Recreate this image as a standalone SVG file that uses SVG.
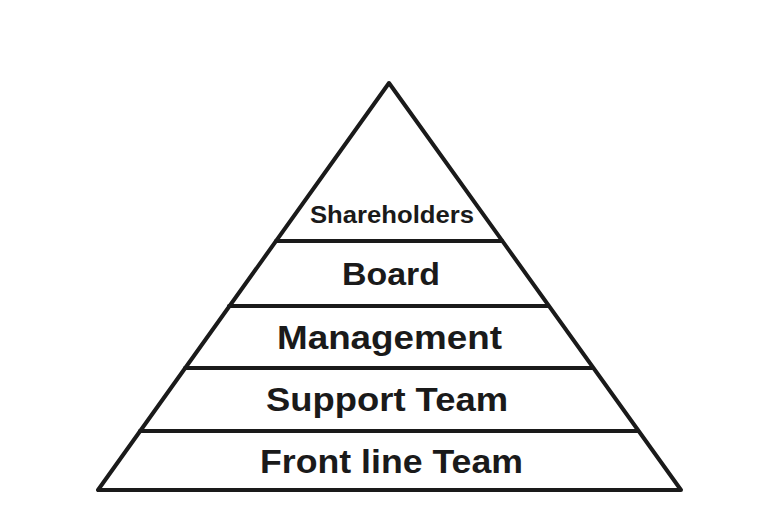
<svg xmlns="http://www.w3.org/2000/svg" width="766" height="522" viewBox="0 0 766 522">
<style>
.edge{fill:none;stroke:#1a1a1a;stroke-width:4;stroke-linejoin:round;stroke-linecap:round}
.lbl{font-family:"Liberation Sans",Arial,sans-serif;font-weight:bold;fill:#1a1a1a;text-anchor:middle}
</style>
<rect width="766" height="522" fill="#ffffff"/>
<g id="outline">
<polygon class="edge" points="389,83 98,490 681,490"/>
</g>
<g id="connectors">
<line class="edge" x1="276" y1="241" x2="502" y2="241"/>
<line class="edge" x1="229" y1="306" x2="548" y2="306"/>
<line class="edge" x1="185" y1="368" x2="592" y2="368"/>
<line class="edge" x1="140" y1="431" x2="638" y2="431"/>
</g>
<g id="shareholders"><text class="lbl" x="392" y="223" font-size="23" textLength="164" lengthAdjust="spacingAndGlyphs">Shareholders</text></g>
<g id="board"><text class="lbl" x="391" y="285" font-size="32" textLength="98" lengthAdjust="spacingAndGlyphs">Board</text></g>
<g id="management"><text class="lbl" x="389.5" y="349" font-size="33" textLength="225" lengthAdjust="spacingAndGlyphs">Management</text></g>
<g id="support-team"><text class="lbl" x="387" y="411" font-size="33" textLength="242" lengthAdjust="spacingAndGlyphs">Support Team</text></g>
<g id="front-line-team"><text class="lbl" x="391.5" y="473" font-size="33" textLength="263" lengthAdjust="spacingAndGlyphs">Front line Team</text></g>
</svg>
